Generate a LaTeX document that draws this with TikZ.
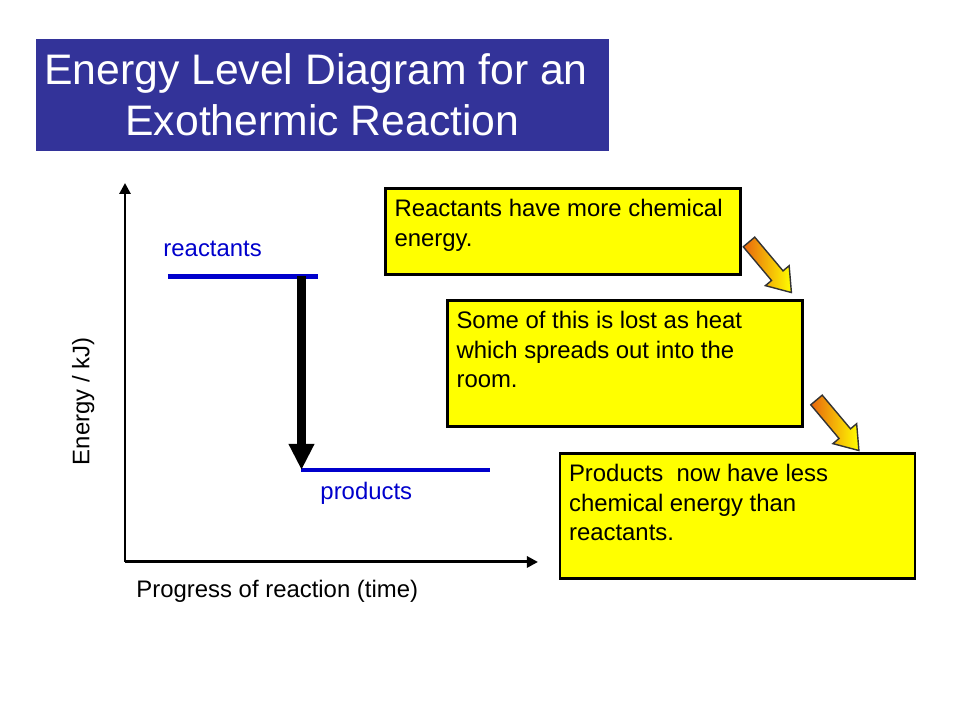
\documentclass[tikz,border=0pt]{standalone}
\usepackage{fontspec}
\setmainfont{Liberation Sans}
\usetikzlibrary{arrows.meta, positioning, calc}
\definecolor{ctitle}{HTML}{333399}
\definecolor{cyellow}{HTML}{FFFF00}
\definecolor{cblue}{HTML}{0000CC}
\definecolor{corange}{HTML}{E8660E}
\tikzset{
  every picture/.style={font=\fontsize{6.8}{8.3}\selectfont, line width=0.85pt},
  title/.style={fill=ctitle, text=white, align=center, inner sep=0pt, minimum width=5.73cm, minimum height=1.12cm, font=\fontsize{12.15}{14.5}\selectfont},
  infobox/.style={draw=black, line width=0.6pt, fill=cyellow, anchor=north west, inner xsep=0.09cm, inner ysep=0.11cm},
  level/.style={draw=cblue, line width=1.3pt},
  levelnote/.style={text=cblue, inner sep=0pt, anchor=base west},
  axisline/.style={-{Triangle[length=0.11cm, width=0.11cm]}, line width=0.85pt},
  drop/.style={-{Triangle[length=0.26cm, width=0.24cm]}, line width=0.09cm},
  heatarrow/.style={draw=black!80, line width=0.4pt, left color=corange, right color=yellow},
  note/.style={inner sep=0pt, anchor=base west},
}

\begin{document}
\begin{tikzpicture}
  \useasboundingbox (0,0) rectangle (9.6,7.2);
  \node[title] (head) at (3.225,6.25) {Energy Level Diagram for an\hspace*{0.13cm}\\ Exothermic Reaction};
  \coordinate (origin) at (1.25,1.58);
  \coordinate (ytop) at (1.25,5.37);
  \coordinate (xend) at (5.38,1.58);
  \coordinate (react west) at (1.68,4.435);
  \coordinate (react east) at (3.18,4.435);
  \coordinate (prod west) at (3.015,2.50);
  \coordinate (prod east) at (4.90,2.50);
  \draw[axisline] (origin) -- (ytop);
  \draw[axisline] (origin) -- (xend);
  \node[note, anchor=base, rotate=90] (energy) at (0.895,3.185) {Energy / kJ)};
  \node[note] (progress) at (1.35,1.225) {Progress of reaction (time)};
  \draw[level] (react west) -- (react east);
  \draw[level] (prod west) -- (prod east);
  \node[levelnote] (reactants) at (1.62,4.633) {reactants};
  \node[levelnote] (products) at (3.19,2.20) {products};
  \draw[drop] (prod west |- react east) -- (prod west);
  \node[infobox] (more) at (3.845,5.325) {\parbox[t][0.64cm][t]{3.37cm}{\raggedright Reactants have more chemical\\ energy.}};
  \node[infobox] (heat) at (4.465,4.205) {\parbox[t][1.04cm][t]{3.37cm}{\raggedright Some of this is lost as heat\\ which spreads out into the\\ room.}};
  \node[infobox] (less) at (5.59,2.675) {\parbox[t][1.03cm][t]{3.37cm}{\raggedright Products~ now have less\\ chemical energy than\\ reactants.}};
  \foreach \x/\y in {7.49/4.78, 8.165/3.20}
    \path[heatarrow, shift={(\x,\y)}, rotate=-50] (0,0.075) -- (0.44,0.075) -- (0.44,0.155) -- (0.66,0) -- (0.44,-0.155) -- (0.44,-0.075) -- (0,-0.075) -- cycle;
\end{tikzpicture}
\end{document}
